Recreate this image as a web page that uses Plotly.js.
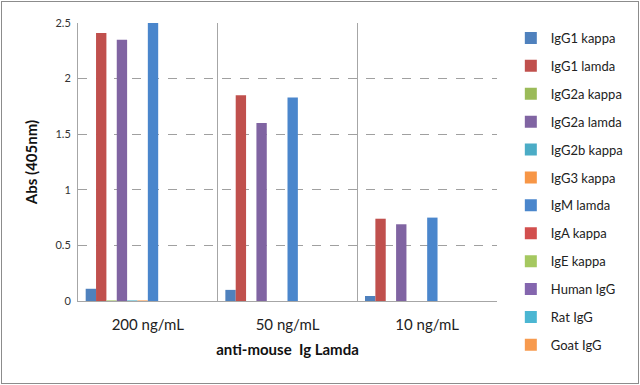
<!DOCTYPE html>
<html><head><meta charset="utf-8">
<script src="https://cdn.plot.ly/plotly-3.0.1.min.js"></script>
<style>html,body{margin:0;padding:0;background:#fff;}#wrap{position:relative;width:640px;height:385px;}#chart{width:640px;height:385px;}#frame{position:absolute;left:1px;top:1px;width:636px;height:381px;border:1px solid #8c8c8c;pointer-events:none;}</style>
</head><body><div id="wrap"><div id="chart"></div><div id="frame"></div></div>
<script>
const categories = ["200 ng/mL", "50 ng/mL", "10 ng/mL"];
const seriesNames = ["IgG1 kappa","IgG1 lamda","IgG2a kappa","IgG2a lamda","IgG2b kappa","IgG3 kappa","IgM lamda","IgA kappa","IgE kappa","Human IgG","Rat IgG","Goat IgG"];
const IgG1_kappa = [0.11, 0.10, 0.045];
const IgG1_lamda = [2.41, 1.85, 0.74];
const IgG2a_kappa = [0.005, 0, 0];
const IgG2a_lamda = [2.35, 1.60, 0.69];
const IgG2b_kappa = [0.005, 0, 0];
const IgG3_kappa = [0.005, 0, 0];
const IgM_lamda = [2.51, 1.83, 0.75];
const IgA_kappa = [0, 0, 0];
const IgE_kappa = [0, 0, 0];
const Human_IgG = [0, 0, 0];
const Rat_IgG = [0, 0, 0];
const Goat_IgG = [0, 0, 0];
const seriesValues = [IgG1_kappa, IgG1_lamda, IgG2a_kappa, IgG2a_lamda, IgG2b_kappa, IgG3_kappa, IgM_lamda, IgA_kappa, IgE_kappa, Human_IgG, Rat_IgG, Goat_IgG];
const colors = ["#4F81BD","#C0504D","#9BBB59","#8064A2","#4BACC6","#F79646","#4A86CC","#D24F4E","#A5C860","#8466AE","#4BB6D2","#F79A4E"];

const font = "Lato, 'Open Sans', sans-serif";
const traces = seriesNames.map((n, i) => ({
  type: "bar", name: n, x: categories, y: seriesValues[i],
  marker: {color: colors[i]}, legendgroup: "g" + i
}));
const layout = {
  width: 640, height: 385,
  margin: {l: 78, r: 129, t: 23, b: 84},
  paper_bgcolor: "#fff", plot_bgcolor: "#fff",
  barmode: "group", bargap: 0.11, bargroupgap: 0,
  showlegend: true,
  legend: {x: 1.033, xanchor: "left", y: 1.0, yanchor: "top", font: {family: font, size: 13, color: "#222"},
           tracegroupgap: 8, itemwidth: 30, traceorder: "grouped", maxheight: 380},
  font: {family: font},
  xaxis: {
    type: "category", tickson: "boundaries", showgrid: true, gridcolor: "#a6a6a6", gridwidth: 1,
    showline: true, linecolor: "#a6a6a6", linewidth: 1, ticks: "",
    tickfont: {family: font, size: 15, color: "#222"}, ticklabelstandoff: 10,
    title: {text: "<b>anti-mouse  Ig Lamda</b>", font: {family: font, size: 15, color: "#111"}, standoff: 12}
  },
  yaxis: {
    range: [0, 2.5], dtick: 0.5, showgrid: true, gridcolor: "#a0a0a0", griddash: "dash", gridwidth: 1,
    showline: true, linecolor: "#a6a6a6", linewidth: 1, zeroline: false, ticks: "",
    tickfont: {family: font, size: 11, color: "#333"}, ticklabelstandoff: 4,
    title: {text: "<b>Abs (405nm)</b>", font: {family: font, size: 15, color: "#111"}, standoff: 14}
  }
};
Plotly.newPlot("chart", traces, layout, {displayModeBar: false, staticPlot: true});
</script></body></html>
